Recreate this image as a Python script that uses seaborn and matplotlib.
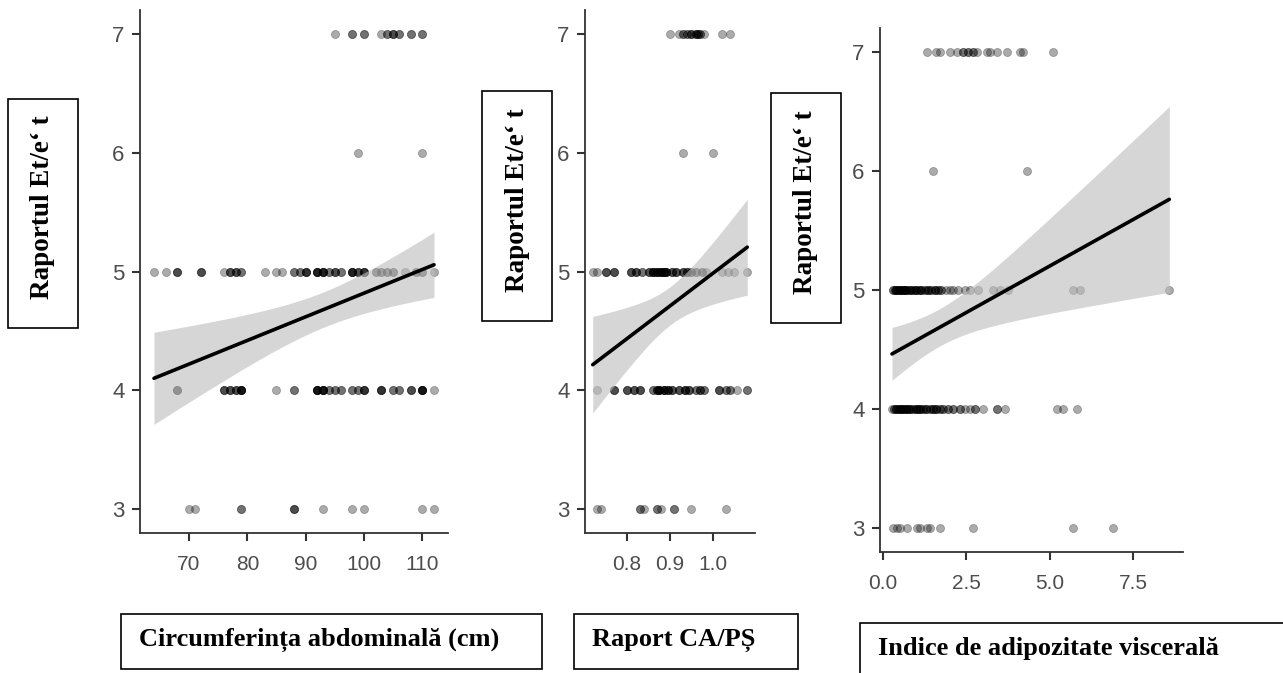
import numpy as np
import pandas as pd
import matplotlib
matplotlib.use("Agg")
import matplotlib.pyplot as plt
from matplotlib.patches import Rectangle
import seaborn as sns

# Raportul Et/e't (y) per level: {x value: number of patients}
# Circumferinta abdominala (cm)
circ_7 = {95: 1, 98: 2, 100: 2, 103: 1, 104: 2, 105: 3, 106: 2, 108: 2, 110: 2}
circ_6 = {99: 1, 110: 1}
circ_5 = {64: 1, 66: 1, 68: 3, 72: 3, 76: 1, 77: 3, 78: 3, 79: 2, 83: 1, 85: 1, 86: 1,
          88: 2, 89: 2, 90: 4, 92: 5, 93: 5, 94: 2, 95: 3, 96: 2, 98: 5, 99: 3, 100: 4,
          102: 2, 103: 2, 104: 2, 105: 2, 107: 1, 109: 2, 110: 2, 112: 1}
circ_4 = {68: 3, 76: 3, 77: 3, 78: 3, 79: 6, 85: 1, 88: 2, 92: 6, 93: 6, 94: 2, 95: 2,
          96: 2, 98: 2, 99: 2, 100: 4, 103: 4, 105: 2, 106: 2, 108: 3, 110: 6, 112: 1}
circ_3 = {70: 1, 71: 1, 79: 2, 88: 3, 93: 1, 98: 1, 100: 1, 110: 1, 112: 1}

# Raport CA/PS
ratio_7 = {0.90: 1, 0.92: 1, 0.93: 2, 0.94: 2, 0.95: 3, 0.96: 3, 0.965: 2, 0.97: 2,
           0.98: 1, 1.02: 1, 1.04: 1}
ratio_6 = {0.93: 1, 1.00: 1}
ratio_5 = {0.72: 1, 0.73: 1, 0.75: 3, 0.77: 3, 0.81: 3, 0.82: 3, 0.835: 2, 0.85: 3,
           0.86: 5, 0.87: 5, 0.88: 5, 0.885: 4, 0.89: 4, 0.905: 3, 0.915: 3, 0.93: 3,
           0.94: 3, 0.95: 2, 0.96: 2, 0.975: 2, 0.985: 1, 1.02: 1, 1.035: 1, 1.05: 1,
           1.08: 1}
ratio_4 = {0.73: 1, 0.77: 3, 0.80: 3, 0.815: 3, 0.83: 3, 0.86: 2, 0.87: 3, 0.875: 5,
           0.885: 5, 0.895: 4, 0.905: 3, 0.92: 3, 0.935: 4, 0.945: 3, 0.96: 2, 0.97: 3,
           0.98: 2, 1.015: 3, 1.03: 2, 1.04: 2, 1.055: 1, 1.08: 2}
ratio_3 = {0.73: 1, 0.74: 1, 0.83: 2, 0.84: 1, 0.87: 2, 0.88: 1, 0.91: 2, 0.95: 1,
           1.03: 1}

# Indice de adipozitate viscerala
vai_7 = {1.32: 1, 1.59: 1, 1.71: 1, 2.01: 1, 2.22: 1, 2.40: 2, 2.55: 2, 2.69: 2,
         2.81: 1, 3.11: 1, 3.20: 1, 3.41: 1, 3.71: 1, 4.10: 1, 4.19: 1, 5.09: 1}
vai_6 = {1.50: 1, 4.31: 1}
vai_5 = {0.30: 2, 0.35: 2, 0.40: 3, 0.45: 2, 0.50: 3, 0.55: 2, 0.60: 3, 0.65: 2,
         0.70: 3, 0.78: 2, 0.85: 3, 0.92: 2, 1.00: 3, 1.08: 2, 1.15: 3, 1.25: 2,
         1.35: 3, 1.45: 2, 1.55: 3, 1.65: 2, 1.75: 2, 1.90: 1, 2.00: 1, 2.10: 1,
         2.25: 1, 2.45: 1, 2.62: 1, 2.84: 1, 3.29: 1, 3.50: 1, 3.74: 1, 5.69: 1,
         5.90: 1, 8.59: 1}
vai_4 = {0.27: 1, 0.32: 2, 0.38: 3, 0.44: 2, 0.50: 3, 0.56: 3, 0.62: 2, 0.68: 3,
         0.75: 2, 0.82: 3, 0.90: 2, 0.98: 3, 1.05: 2, 1.12: 3, 1.20: 2, 1.30: 3,
         1.40: 2, 1.50: 3, 1.60: 3, 1.70: 2, 1.80: 2, 1.95: 2, 2.10: 2, 2.30: 2,
         2.45: 1, 2.60: 1, 2.75: 2, 3.00: 1, 3.41: 2, 3.65: 1, 5.21: 1, 5.39: 1,
         5.81: 1}
vai_3 = {0.30: 1, 0.42: 1, 0.51: 1, 0.72: 1, 1.02: 1, 1.11: 1, 1.32: 1, 1.41: 1,
         1.71: 1, 2.69: 1, 5.69: 1, 6.89: 1}

y_label = "Raportul Et/e\u2018 t"
x_labels = ["Circumferința abdominală (cm)", "Raport CA/PȘ", "Indice de adipozitate viscerală"]


def to_frame(levels):
    rows = []
    for yv, counts in levels.items():
        for xv, n in counts.items():
            rows += [(xv, yv)] * n
    return pd.DataFrame(rows, columns=["x", "y"])


def lm_band(df, grid):
    # 95% confidence band of the OLS fit (like geom_smooth(method = "lm"))
    x, y = df["x"].to_numpy(float), df["y"].to_numpy(float)
    n = len(x)
    b1, b0 = np.polyfit(x, y, 1)
    resid = y - (b0 + b1 * x)
    s = np.sqrt(resid @ resid / (n - 2))
    sxx = ((x - x.mean()) ** 2).sum()
    z = 1.959964
    t = z + (z ** 3 + z) / (4 * (n - 2))
    se = s * np.sqrt(1 / n + (grid - x.mean()) ** 2 / sxx)
    fit = b0 + b1 * grid
    return fit - t * se, fit + t * se


panels = [
    to_frame({7: circ_7, 6: circ_6, 5: circ_5, 4: circ_4, 3: circ_3}),
    to_frame({7: ratio_7, 6: ratio_6, 5: ratio_5, 4: ratio_4, 3: ratio_3}),
    to_frame({7: vai_7, 6: vai_6, 5: vai_5, 4: vai_4, 3: vai_3}),
]

sns.set_theme(style="ticks")
plt.rcParams["font.family"] = ["Liberation Sans", "DejaVu Sans"]

W, H = 1283, 673
fig = plt.figure(figsize=(W / 100, H / 100), dpi=100)


def px_axes(left, top, right, bottom):
    return fig.add_axes([left / W, 1 - bottom / H, (right - left) / W, (bottom - top) / H])


def px_box(left, top, right, bottom):
    rect = Rectangle((left / W, 1 - bottom / H), (right - left) / W, (bottom - top) / H,
                     transform=fig.transFigure, facecolor="white", edgecolor="black",
                     linewidth=1.2, zorder=10)
    fig.add_artist(rect)


# pixel boxes of each panel: axes, y-label box, x-label box
layout = [
    dict(ax=(140, 10, 448, 533), ybox=(8, 99, 78, 328), xbox=(121, 614, 542, 669), ty=640,
         xlim=(61.6, 114.4), xticks=[70, 80, 90, 100, 110], fmt="{:.0f}"),
    dict(ax=(585, 10, 755, 533), ybox=(482, 91, 552, 321), xbox=(574, 614, 798, 669), ty=640,
         xlim=(0.702, 1.098), xticks=[0.8, 0.9, 1.0], fmt="{:.1f}"),
    dict(ax=(880, 28, 1183, 552), ybox=(771, 93, 841, 323), xbox=(860, 623, 1290, 680), ty=648,
         xlim=(-0.09, 9.0), xticks=[0.0, 2.5, 5.0, 7.5], fmt="{:.1f}"),
]

for df, lay, xl in zip(panels, layout, x_labels):
    ax = px_axes(*lay["ax"])
    grid = np.linspace(df["x"].min(), df["x"].max(), 100)
    lo, hi = lm_band(df, grid)
    ax.fill_between(grid, lo, hi, color="#bdbdbd", alpha=0.62, linewidth=0, zorder=1.5)
    sns.regplot(data=df, x="x", y="y", ax=ax, ci=None,
                color="black", truncate=True,
                scatter_kws=dict(s=34, alpha=0.33, linewidths=0.5, edgecolor="black",
                                 zorder=1),
                line_kws=dict(linewidth=2.6, zorder=3))
    ax.set_xlim(*lay["xlim"])
    ax.set_ylim(2.8, 7.2)
    ax.set_xticks(lay["xticks"])
    ax.set_xticklabels([lay["fmt"].format(t) for t in lay["xticks"]])
    ax.set_yticks([3, 4, 5, 6, 7])
    ax.set_xlabel("")
    ax.set_ylabel("")
    sns.despine(ax=ax)
    for s in ["left", "bottom"]:
        ax.spines[s].set_color("#333333")
        ax.spines[s].set_linewidth(1.3)
    ax.tick_params(axis="both", length=6, width=1.5, color="#333333", labelcolor="#4D4D4D")
    ax.tick_params(axis="x", labelsize=15, pad=10)
    ax.tick_params(axis="y", labelsize=16, pad=5)

    l, t, r, b = lay["ybox"]
    px_box(l, t, r, b)
    fig.text((l + r) / 2 / W, 1 - ((t + b) / 2 - 6) / H, y_label, rotation=90,
             ha="center", va="center", fontsize=19.5, fontweight="bold", color="black",
             family="Liberation Serif", zorder=11)

    l, t, r, b = lay["xbox"]
    px_box(l, t, r, b)
    fig.text((l + 18) / W, 1 - lay["ty"] / H, xl,
             ha="left", va="center", fontsize=19, fontweight="bold", color="black",
             family="Liberation Serif", zorder=11)

fig.savefig("out.png", dpi=100, facecolor="white")
